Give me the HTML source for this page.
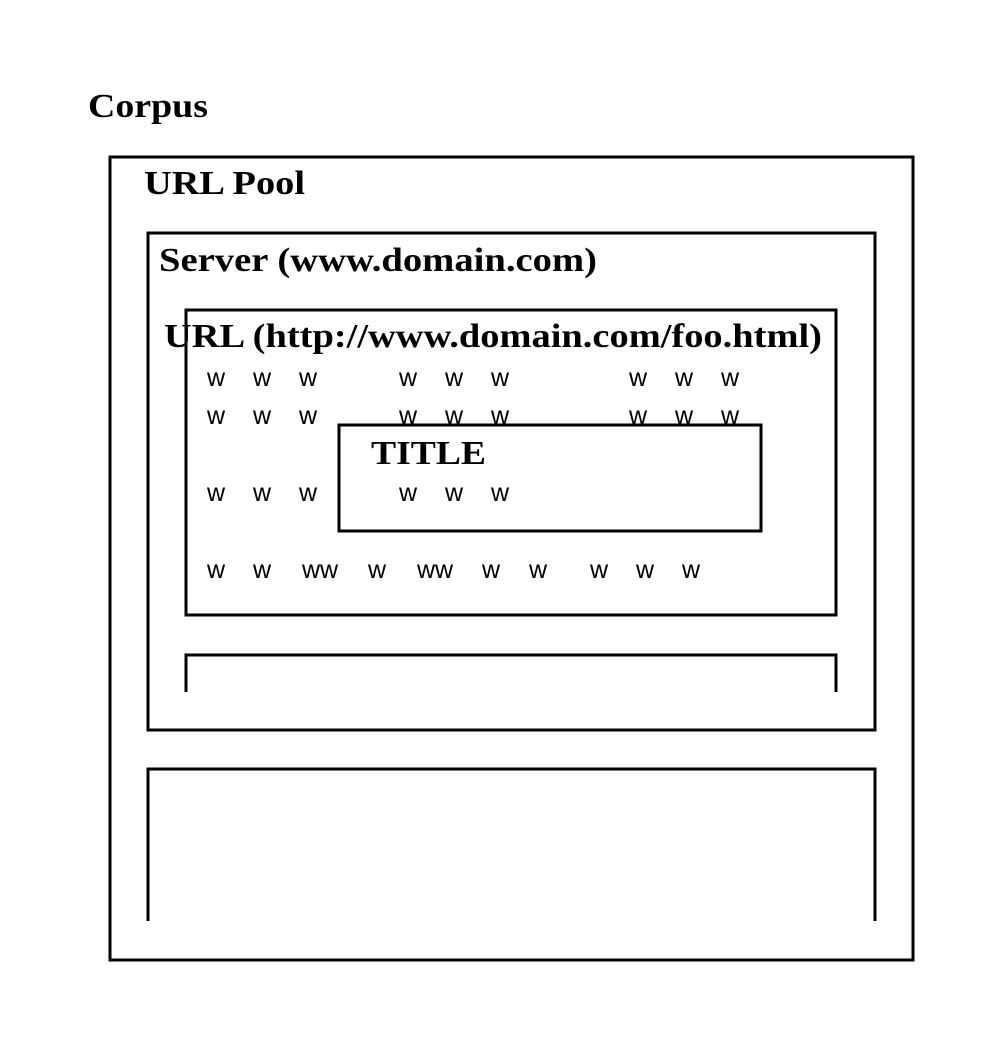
<!DOCTYPE html>
<html><head><meta charset="utf-8"><style>html,body{margin:0;padding:0;background:#fff}svg{display:block}</style></head>
<body>
<svg width="1000" height="1050" viewBox="0 0 1000 1050" xmlns="http://www.w3.org/2000/svg">
<g fill="none" stroke="#000" stroke-width="3">
<rect x="110" y="157" width="803" height="803"/>
<rect x="148" y="233" width="727" height="497"/>
<rect x="186" y="310" width="650" height="305"/>
<path d="M186 692 V655 H836 V692"/>
<path d="M148 921 V769 H875 V921"/>
</g>
<g font-family="Liberation Serif, serif" font-weight="bold" font-size="34" fill="#000">
<text x="88" y="117" textLength="120" lengthAdjust="spacingAndGlyphs">Corpus</text>
<text x="144" y="194" textLength="161" lengthAdjust="spacingAndGlyphs">URL Pool</text>
<text x="159" y="271" textLength="438" lengthAdjust="spacingAndGlyphs">Server (www.domain.com)</text>
<text x="164" y="347" textLength="658" lengthAdjust="spacingAndGlyphs">URL (http://www.domain.com/foo.html)</text>
</g>
<g font-family="Liberation Sans, sans-serif" font-size="25" fill="#000" text-anchor="middle">
<text x="216" y="386">w</text><text x="262" y="386">w</text><text x="308" y="386">w</text>
<text x="408" y="386">w</text><text x="454" y="386">w</text><text x="500" y="386">w</text>
<text x="638" y="386">w</text><text x="684" y="386">w</text><text x="730" y="386">w</text>
<text x="216" y="424">w</text><text x="262" y="424">w</text><text x="308" y="424">w</text>
<text x="408" y="424">w</text><text x="454" y="424">w</text><text x="500" y="424">w</text>
<text x="638" y="424">w</text><text x="684" y="424">w</text><text x="730" y="424">w</text>
</g>
<rect x="339" y="425" width="422" height="106" fill="#fff" stroke="#000" stroke-width="3"/>
<text x="371" y="464" font-family="Liberation Serif, serif" font-weight="bold" font-size="34" textLength="115" lengthAdjust="spacingAndGlyphs">TITLE</text>
<g font-family="Liberation Sans, sans-serif" font-size="25" fill="#000" text-anchor="middle">
<text x="216" y="501">w</text><text x="262" y="501">w</text><text x="308" y="501">w</text>
<text x="408" y="501">w</text><text x="454" y="501">w</text><text x="500" y="501">w</text>
<text x="216" y="578">w</text><text x="262" y="578">w</text><text x="320" y="578">ww</text>
<text x="377" y="578">w</text><text x="435" y="578">ww</text><text x="491" y="578">w</text>
<text x="538" y="578">w</text><text x="599" y="578">w</text><text x="645" y="578">w</text><text x="691" y="578">w</text>
</g>
</svg>
</body></html>
